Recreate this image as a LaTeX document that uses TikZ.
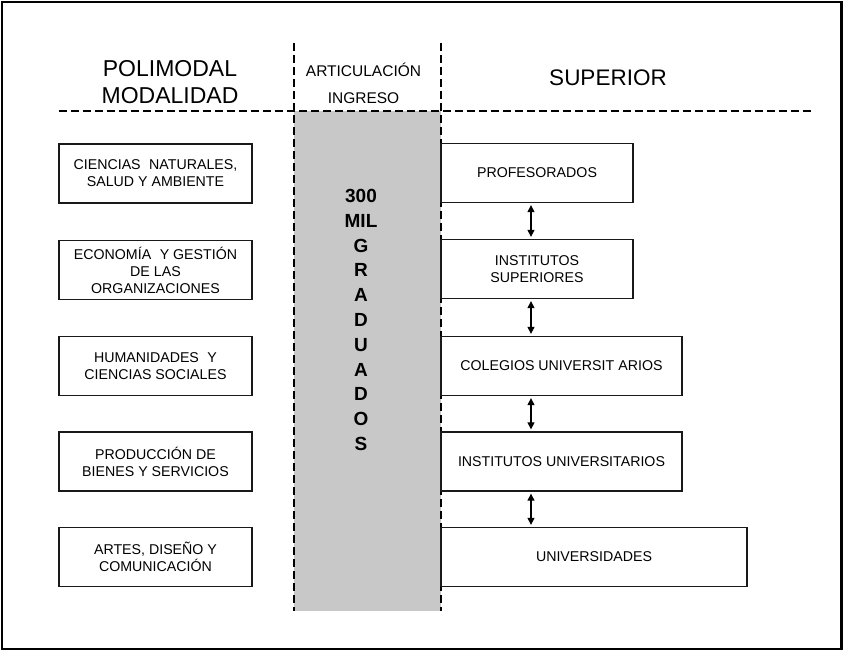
\documentclass[tikz,border=0pt]{standalone}
\usepackage{fontspec}
\setmainfont{Liberation Sans}
\usetikzlibrary{arrows.meta}
\definecolor{colgray}{RGB}{200,200,200}
\definecolor{boxline}{RGB}{25,25,25}
\newcommand{\wsp}{\hspace{0.6em}}
\begin{document}
\begin{tikzpicture}[x=1pt,y=-1pt,
  basebox/.style={draw=boxline, line width=1.3pt, fill=white, inner sep=0pt, align=center, minimum height=59pt, font=\fontsize{14.2}{17}\selectfont},
  lbox/.style={basebox, minimum width=193pt},
  rbox/.style={basebox, minimum width=192pt},
  rwide/.style={basebox, minimum width=241pt},
  rwider/.style={basebox, minimum width=306pt},
  sepline/.style={line width=1.2pt, dash pattern=on 8pt off 4pt},
  linkarrow/.style={line width=1.1pt, {Triangle[length=7pt,width=7pt]}-{Triangle[length=7pt,width=7pt]}, shorten <=2pt, shorten >=2pt}
]
\useasboundingbox (0,0) rectangle (844,651);
\draw[line width=2.5pt] (2,2) rectangle (841.5,649);

% grey column
\fill[colgray] (294,111) rectangle (441,611);

% separators
\draw[sepline] (59,111) -- (813,111);
\draw[sepline] (294,43) -- (294,611);
\draw[sepline] (441,43) -- (441,611);

% headers
\node[font=\fontsize{23}{27}\selectfont, align=center] (hpoli) at (170,82) {POLIMODAL\\MODALIDAD};
\node[font=\fontsize{15.5}{27}\selectfont, align=center] (hart) at (363.5,83.5) {ARTICULACIÓN\\INGRESO};
\node[font=\fontsize{22.5}{27}\selectfont] (hsup) at (608,78) {SUPERIOR};

% left boxes
\node[lbox] (l1) at (155.5,173.5) {CIENCIAS\wsp NATURALES,\\SALUD Y AMBIENTE};
\node[lbox] (l2) at (155.5,270) {ECONOMÍA\wsp Y GESTIÓN\\DE LAS\\ORGANIZACIONES};
\node[lbox] (l3) at (155.5,366) {HUMANIDADES\wsp Y\\CIENCIAS SOCIALES};
\node[lbox] (l4) at (155.5,461.5) {PRODUCCIÓN DE\\BIENES Y SERVICIOS};
\node[lbox] (l5) at (155.5,557) {ARTES, DISEÑO Y\\COMUNICACIÓN};

% middle text
\node[font=\bfseries\fontsize{19}{24.8}\selectfont, align=center] (grad) at (361,320) {300\\MIL\\G\\R\\A\\D\\U\\A\\D\\O\\S};

% right boxes
\node[rbox] (r1) at (537,173) {PROFESORADOS};
\node[rbox] (r2) at (537,269) {INSTITUTOS\\SUPERIORES};
\node[rwide] (r3) at (561.5,366) {COLEGIOS UNIVERSIT\hspace{0.3em}ARIOS};
\node[rwide] (r4) at (561.5,461.5) {INSTITUTOS UNIVERSITARIOS};
\node[rwider] (r5) at (594,557) {UNIVERSIDADES};

% arrows
\coordinate (ax) at (531,0);
\draw[linkarrow] (r1.south -| ax) -- (r2.north -| ax);
\draw[linkarrow] (r2.south -| ax) -- (r3.north -| ax);
\draw[linkarrow] (r3.south -| ax) -- (r4.north -| ax);
\draw[linkarrow] (r4.south -| ax) -- (r5.north -| ax);
\end{tikzpicture}
\end{document}
